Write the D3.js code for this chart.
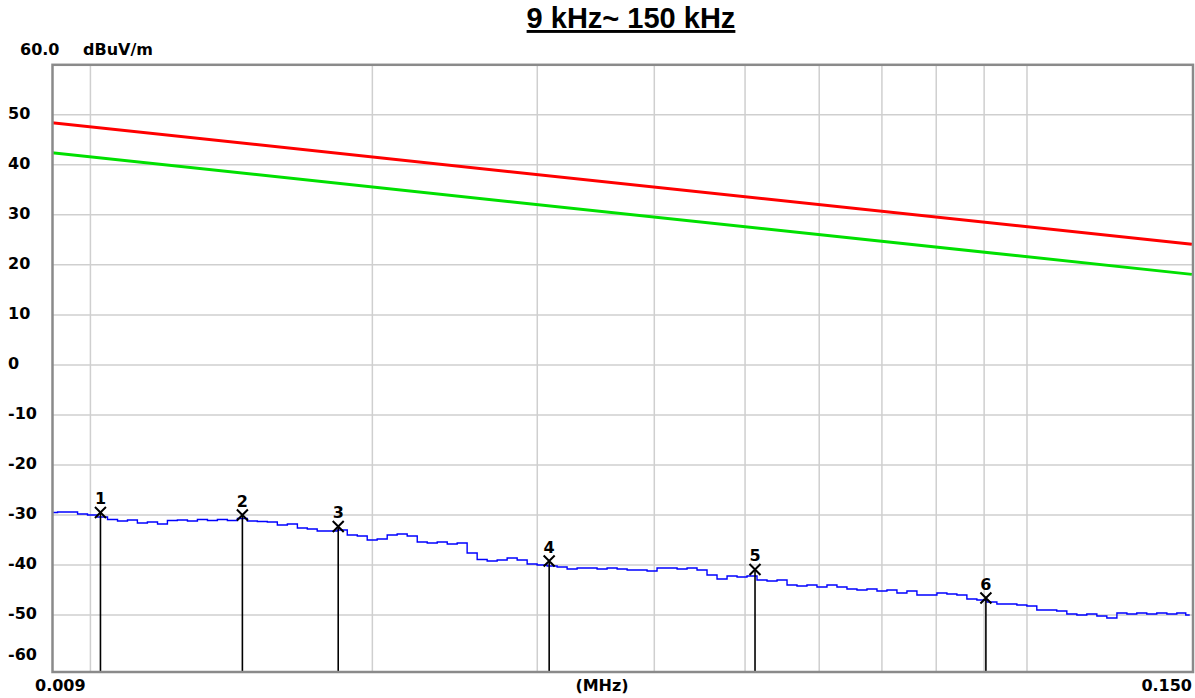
<!DOCTYPE html>
<html>
<head>
<meta charset="utf-8">
<script src="https://cdn.jsdelivr.net/npm/d3@7"></script>
<style>
  body { margin: 0; background: #fff; }
  text { font-family: "DejaVu Sans", sans-serif; font-weight: bold; fill: #000; }
</style>
</head>
<body>
<script>
// limit lines (kHz / dBuV/m)
var limitKHz = [9, 150];
var limitRed = [48.5, 24.1];
var limitGreen = [42.5, 18.1];

var traceKHz = [9.11, 9.34, 9.57, 9.81, 10.05, 10.30, 10.56, 10.82, 11.09, 11.36,
  11.65, 11.94, 12.23, 12.54, 12.85, 13.17, 13.50, 13.83, 14.18, 14.53,
  14.89, 15.26, 15.64, 16.03, 16.43, 16.84, 17.25, 17.68, 18.12, 18.57,
  19.04, 19.51, 19.99, 20.49, 21.00, 21.52, 22.06, 22.61, 23.17, 23.75,
  24.34, 24.94, 25.56, 26.20, 26.85, 27.52, 28.20, 28.91, 29.62, 30.36,
  31.12, 31.89, 32.68, 33.50, 34.33, 35.18, 36.06, 36.96, 37.88, 38.82,
  39.78, 40.77, 41.79, 42.83, 43.89, 44.98, 46.10, 47.25, 48.43, 49.63,
  50.86, 52.13, 53.43, 54.76, 56.12, 57.51, 58.94, 60.41, 61.91, 63.45,
  65.03, 66.65, 68.31, 70.01, 71.75, 73.53, 75.36, 77.24, 79.16, 81.13,
  83.14, 85.21, 87.33, 89.50, 91.73, 94.01, 96.35, 98.75, 101.2, 103.7,
  106.3, 108.9, 111.7, 114.4, 117.3, 120.2, 123.2, 126.3, 129.4, 132.6,
  135.9, 139.3, 142.8, 146.3, 149.2];
var traceDb = [-29.5, -29.4, -29.4, -29.8, -30.0, -30.4, -30.9, -31.2, -31.0, -31.6,
  -31.4, -31.8, -31.1, -31.0, -31.2, -30.9, -31.1, -30.9, -31.1, -30.7,
  -31.2, -31.3, -31.4, -32.0, -31.8, -32.6, -32.8, -33.2, -33.2, -33.0,
  -34.0, -34.2, -35.0, -34.8, -34.0, -33.8, -34.2, -35.4, -35.6, -35.4,
  -35.8, -35.6, -37.6, -38.9, -39.2, -39.0, -38.6, -39.0, -39.8, -40.0,
  -40.2, -40.4, -40.8, -40.6, -40.6, -40.8, -40.6, -40.8, -41.0, -41.0,
  -41.2, -40.6, -40.6, -40.8, -40.6, -41.0, -42.0, -42.8, -42.2, -42.4,
  -42.2, -43.0, -43.2, -43.0, -44.0, -44.2, -44.0, -44.4, -44.0, -44.4,
  -44.8, -45.0, -44.8, -45.2, -45.0, -45.6, -45.2, -46.0, -46.0, -45.6,
  -45.8, -46.0, -46.8, -47.0, -47.4, -47.8, -47.8, -48.0, -48.2, -49.0,
  -49.0, -49.2, -49.8, -50.0, -49.8, -50.2, -50.6, -49.6, -49.8, -49.6,
  -49.8, -49.6, -49.8, -49.6, -50.0];

// peak markers
var markerNo = [1, 2, 3, 4, 5, 6];
var markerKHz = [10.25, 14.53, 18.39, 30.89, 51.24, 90.39];
var markerDb = [-29.5, -30.0, -32.3, -39.2, -40.9, -46.6];

var yTicks = [50, 40, 30, 20, 10, 0, -10, -20, -30, -40, -50, -60];
var xGrid = [0.01, 0.02, 0.03, 0.04, 0.05, 0.06, 0.07, 0.08, 0.09, 0.1];

var W = 1195, H = 698;
var plot = {left: 52.5, top: 64.8, right: 1193, bottom: 672};

var svg = d3.select("body").append("svg")
    .attr("width", W)
    .attr("height", H);

var xScale = d3.scaleLog().domain([0.00911, 0.1504]).range([plot.left, plot.right]);
var yScale = d3.scaleLinear().domain([-61.4, 60]).range([plot.bottom, plot.top]);

svg.append("defs").append("clipPath").attr("id", "clip")
  .append("rect")
    .attr("x", plot.left).attr("y", plot.top)
    .attr("width", plot.right - plot.left).attr("height", plot.bottom - plot.top);

// grid
svg.append("g").selectAll("line")
    .data(yTicks.filter(function(d) { return d > -60; }))
  .enter().append("line")
    .attr("x1", plot.left).attr("x2", plot.right)
    .attr("y1", function(d) { return yScale(d); })
    .attr("y2", function(d) { return yScale(d); })
    .attr("stroke", "#cfcfcf").attr("stroke-width", 1.5);

svg.append("g").selectAll("line")
    .data(xGrid)
  .enter().append("line")
    .attr("x1", function(d) { return xScale(d); })
    .attr("x2", function(d) { return xScale(d); })
    .attr("y1", plot.top).attr("y2", plot.bottom)
    .attr("stroke", "#cfcfcf").attr("stroke-width", 1.5);

var chart = svg.append("g").attr("clip-path", "url(#clip)");

function limitLine(vals) {
    return d3.line()
        .x(function(d, i) { return xScale(limitKHz[i] / 1000); })
        .y(function(d) { return yScale(d); })(vals);
}

chart.append("path").attr("d", limitLine(limitRed))
    .attr("fill", "none").attr("stroke", "#ff0000").attr("stroke-width", 3);
chart.append("path").attr("d", limitLine(limitGreen))
    .attr("fill", "none").attr("stroke", "#00e000").attr("stroke-width", 3);

var trace = d3.line()
    .curve(d3.curveStep)
    .x(function(d, i) { return xScale(traceKHz[i] / 1000); })
    .y(function(d) { return yScale(d); });

chart.append("path").attr("d", trace(traceDb))
    .attr("fill", "none").attr("stroke", "#0000ff").attr("stroke-width", 1.4);

// markers
var mk = chart.selectAll("g.marker")
    .data(markerNo)
  .enter().append("g").attr("class", "marker")
    .attr("transform", function(d, i) {
        return "translate(" + xScale(markerKHz[i] / 1000) + "," + yScale(markerDb[i]) + ")";
    });

mk.append("line")
    .attr("x1", 0).attr("x2", 0).attr("y1", 0)
    .attr("y2", function(d, i) { return plot.bottom - yScale(markerDb[i]); })
    .attr("stroke", "#000").attr("stroke-width", 1.6);
mk.append("path")
    .attr("d", "M-5.5,-5.5L5.5,5.5M-5.5,5.5L5.5,-5.5")
    .attr("stroke", "#000").attr("stroke-width", 2);
mk.append("text")
    .attr("y", -8)
    .attr("text-anchor", "middle")
    .style("font-size", "16px")
    .text(function(d) { return d; });

// frame
svg.append("rect")
    .attr("x", plot.left).attr("y", plot.top)
    .attr("width", plot.right - plot.left).attr("height", plot.bottom - plot.top)
    .attr("fill", "none").attr("stroke", "#8a8a8a").attr("stroke-width", 2.5);

// y labels
svg.append("g").selectAll("text")
    .data(yTicks)
  .enter().append("text")
    .attr("x", 8)
    .attr("y", function(d) { return Math.min(yScale(d) + 4.5, 660); })
    .style("font-size", "16px")
    .text(function(d) { return d; });

svg.append("text").attr("x", 20).attr("y", 55).style("font-size", "16px").text("60.0");
svg.append("text").attr("x", 83).attr("y", 55).style("font-size", "16px").text("dBuV/m");

// x labels
svg.append("text").attr("x", 35).attr("y", 691).style("font-size", "16px").text("0.009");
svg.append("text").attr("x", 1192).attr("y", 691).attr("text-anchor", "end")
    .style("font-size", "16px").text("0.150");
svg.append("text").attr("x", 602).attr("y", 691).attr("text-anchor", "middle")
    .style("font-size", "16px").text("(MHz)");

// title
svg.append("text")
    .attr("x", 631).attr("y", 28)
    .attr("text-anchor", "middle")
    .style("font-family", "'Liberation Sans', Arial, sans-serif")
    .style("font-size", "29px")
    .style("text-decoration", "underline")
    .text("9 kHz~ 150 kHz");
</script>
</body>
</html>
